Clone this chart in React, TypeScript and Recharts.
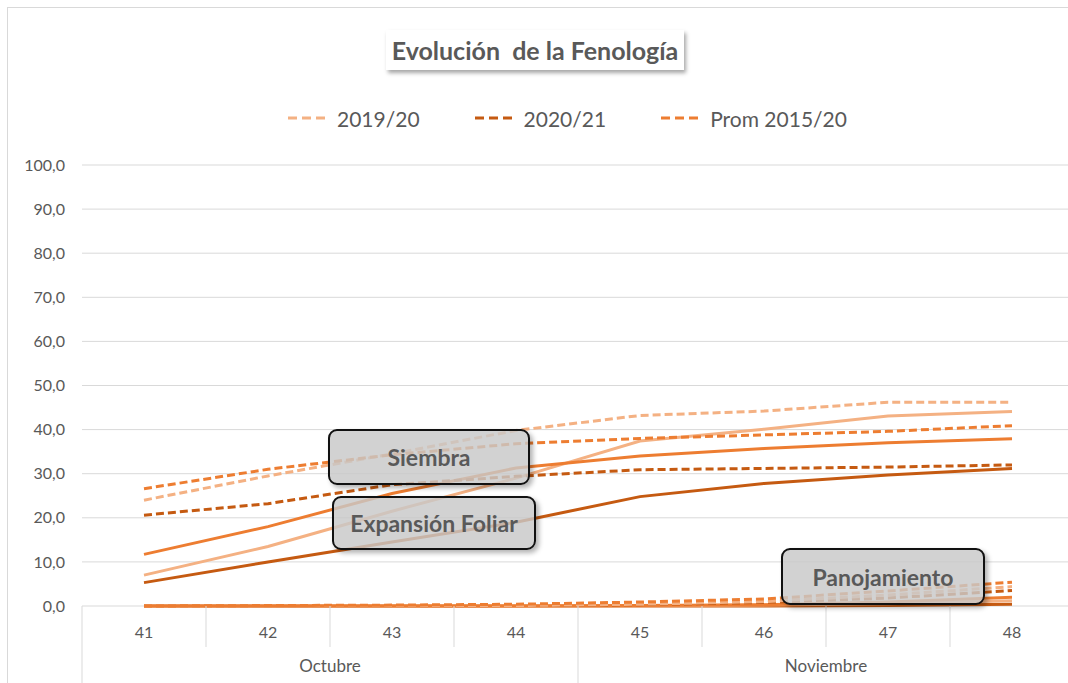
import { LineChart, Line, XAxis, YAxis, CartesianGrid } from 'recharts';

// Semanas del ciclo y mes al que pertenece cada una
const semanas = ['41', '42', '43', '44', '45', '46', '47', '48'];
const mesDeSemana = ['Octubre', 'Octubre', 'Octubre', 'Octubre', 'Noviembre', 'Noviembre', 'Noviembre', 'Noviembre'];

// Siembra (punteadas)
const siembra1920 = [24.0, 29.5, 34.5, 39.8, 43.2, 44.2, 46.2, 46.2];
const siembra2021 = [20.6, 23.2, 27.5, 29.4, 30.9, 31.2, 31.5, 32.0];
const siembraProm = [26.6, 31.0, 34.3, 36.8, 38.0, 38.8, 39.6, 40.9];

// Expansión foliar (continuas)
const expansion1920 = [7.0, 13.5, 21.5, 29.0, 37.4, 40.1, 43.1, 44.1];
const expansion2021 = [5.3, 10.0, 14.5, 19.0, 24.8, 27.8, 29.7, 31.2];
const expansionProm = [11.7, 18.0, 25.5, 31.3, 34.0, 35.7, 37.0, 37.9];

// Panojamiento (punteadas, abajo)
const panoja1920 = [0, 0, 0, 0.1, 0.4, 1.0, 2.5, 4.4];
const panoja2021 = [0, 0, 0, 0.1, 0.3, 0.8, 1.8, 3.5];
const panojaProm = [0, 0.1, 0.2, 0.4, 0.9, 1.6, 3.4, 5.4];

// Fase siguiente (continuas, casi en cero)
const floracion1920 = [0, 0, 0, 0, 0, 0.2, 0.5, 1.2];
const floracion2021 = [0, 0, 0, 0, 0, 0, 0.1, 0.4];
const floracionProm = [0, 0, 0, 0, 0.1, 0.3, 0.9, 2.0];

const yTicks = [0, 10, 20, 30, 40, 50, 60, 70, 80, 90, 100];

const COLOR_1920 = '#F4B183';
const COLOR_2021 = '#C55A11';
const COLOR_PROM = '#ED7D31';
const TEXT = '#595959';
const GRID = '#D9D9D9';
const FONT = 'Lato, "Open Sans", sans-serif';
const DASH = '8 4';

const data = semanas.map((semana, i) => ({
    semana,
    mes: mesDeSemana[i],
    siembra1920: siembra1920[i],
    siembra2021: siembra2021[i],
    siembraProm: siembraProm[i],
    expansion1920: expansion1920[i],
    expansion2021: expansion2021[i],
    expansionProm: expansionProm[i],
    panoja1920: panoja1920[i],
    panoja2021: panoja2021[i],
    panojaProm: panojaProm[i],
    floracion1920: floracion1920[i],
    floracion2021: floracion2021[i],
    floracionProm: floracionProm[i],
}));

const series = [
    { key: 'floracion2021', color: COLOR_2021, dashed: false },
    { key: 'floracion1920', color: COLOR_1920, dashed: false },
    { key: 'floracionProm', color: COLOR_PROM, dashed: false },
    { key: 'panoja2021', color: COLOR_2021, dashed: true },
    { key: 'panoja1920', color: COLOR_1920, dashed: true },
    { key: 'panojaProm', color: COLOR_PROM, dashed: true },
    { key: 'expansion2021', color: COLOR_2021, dashed: false },
    { key: 'expansion1920', color: COLOR_1920, dashed: false },
    { key: 'expansionProm', color: COLOR_PROM, dashed: false },
    { key: 'siembra2021', color: COLOR_2021, dashed: true },
    { key: 'siembra1920', color: COLOR_1920, dashed: true },
    { key: 'siembraProm', color: COLOR_PROM, dashed: true },
];

const legendItems = [
    { name: '2019/20', color: COLOR_1920 },
    { name: '2020/21', color: COLOR_2021 },
    { name: 'Prom 2015/20', color: COLOR_PROM },
];

const etapas = [
    { name: 'Siembra', left: 328, top: 429, width: 202, height: 56 },
    { name: 'Expansión Foliar', left: 332, top: 496, width: 204, height: 54 },
    { name: 'Panojamiento', left: 781, top: 548, width: 204, height: 57 },
];

// two-level category axis: week number + month group underneath
const SemanaTick = (props: any) => {
    const { x, y, payload, index } = props;
    const half = payload?.offset ?? 62;
    const mes = mesDeSemana[index];
    const firstOfMonth = index === 0 || mesDeSemana[index - 1] !== mes;
    const isLast = index === semanas.length - 1;
    const count = mesDeSemana.filter((m) => m === mes).length;
    const left = x - half;

    return (
        <g>
            <line x1={left} y1={y} x2={left} y2={firstOfMonth ? y + 80 : y + 41} stroke={GRID} strokeWidth={1} />
            {isLast && <line x1={x + half} y1={y} x2={x + half} y2={y + 80} stroke={GRID} strokeWidth={1} />}
            <text x={x} y={y + 32} textAnchor="middle" fill={TEXT} fontSize={16} fontFamily={FONT}>
                {payload.value}
            </text>
            {firstOfMonth && (
                <text x={left + count * half} y={y + 66} textAnchor="middle" fill={TEXT} fontSize={17} fontFamily={FONT}>
                    {mes}
                </text>
            )}
        </g>
    );
};

export default function App() {
    return (
        <div
            style={{
                position: 'absolute',
                left: 0,
                top: 0,
                width: 1068,
                height: 683,
                overflow: 'hidden',
                background: '#fff',
                fontFamily: FONT,
            }}
        >
            {/* chart frame */}
            <div
                style={{
                    position: 'absolute',
                    left: 7,
                    top: 7,
                    width: 1100,
                    height: 700,
                    border: `1px solid ${GRID}`,
                }}
            />

            <div style={{ position: 'absolute', left: 0, top: 0 }}>
                <LineChart width={1090} height={683} data={data} margin={{ top: 165, right: 16, bottom: 0, left: 0 }}>
                    <CartesianGrid vertical={false} stroke={GRID} strokeWidth={1} />
                    <XAxis
                        dataKey="semana"
                        scale="band"
                        height={77}
                        axisLine={false}
                        tickLine={false}
                        tickSize={0}
                        tickMargin={0}
                        interval={0}
                        tick={<SemanaTick />}
                    />
                    <YAxis
                        width={82}
                        domain={[0, 100]}
                        ticks={yTicks}
                        axisLine={false}
                        tickLine={false}
                        tickSize={0}
                        tickMargin={17}
                        tickFormatter={(v: number) => v.toFixed(1).replace('.', ',')}
                        tick={{ fill: TEXT, fontSize: 16, fontFamily: FONT }}
                    />
                    {series.map((s) => (
                        <Line
                            key={s.key}
                            type="linear"
                            dataKey={s.key}
                            stroke={s.color}
                            strokeWidth={3}
                            strokeDasharray={s.dashed ? DASH : undefined}
                            dot={false}
                            activeDot={false}
                            isAnimationActive={false}
                        />
                    ))}
                </LineChart>
            </div>

            {/* title */}
            <div
                style={{
                    position: 'absolute',
                    left: 386,
                    top: 30,
                    width: 298,
                    height: 40,
                    background: '#fff',
                    boxShadow: '2px 3px 4px rgba(0,0,0,0.35)',
                    display: 'flex',
                    alignItems: 'center',
                    justifyContent: 'center',
                    color: TEXT,
                    fontWeight: 700,
                    fontSize: 25,
                    whiteSpace: 'pre',
                }}
            >
                {'Evolución  de la Fenología'}
            </div>

            {/* legend */}
            <div
                style={{
                    position: 'absolute',
                    left: 288,
                    top: 104,
                    height: 28,
                    display: 'flex',
                    alignItems: 'center',
                    gap: 55,
                    color: TEXT,
                    fontSize: 21,
                }}
            >
                {legendItems.map((item) => (
                    <div key={item.name} style={{ display: 'flex', alignItems: 'center', gap: 7 }}>
                        <svg width={42} height={6}>
                            <line x1={0} y1={3} x2={42} y2={3} stroke={item.color} strokeWidth={3} strokeDasharray="9 5" />
                        </svg>
                        <span>{item.name}</span>
                    </div>
                ))}
            </div>

            {/* phase labels */}
            {etapas.map((e) => (
                <div
                    key={e.name}
                    style={{
                        position: 'absolute',
                        left: e.left,
                        top: e.top,
                        width: e.width,
                        height: e.height,
                        boxSizing: 'border-box',
                        border: '2.5px solid #111',
                        borderRadius: 9,
                        background: 'rgba(200,200,200,0.82)',
                        boxShadow: '3px 3px 5px rgba(0,0,0,0.3)',
                        display: 'flex',
                        alignItems: 'center',
                        justifyContent: 'center',
                        color: TEXT,
                        fontWeight: 700,
                        fontSize: 23,
                    }}
                >
                    {e.name}
                </div>
            ))}
        </div>
    );
}
